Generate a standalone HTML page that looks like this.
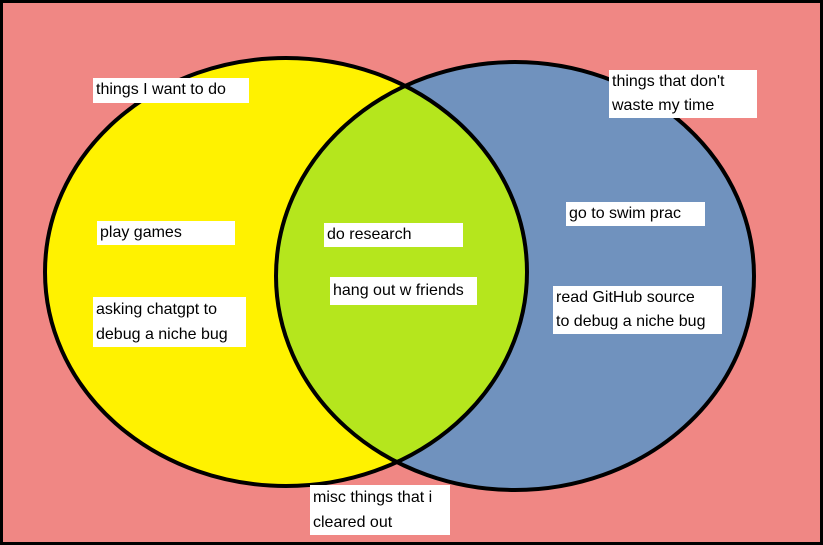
<!DOCTYPE html>
<html><head><style>
body{margin:0;width:823px;height:545px;overflow:hidden;background:#f08784}
.b{position:absolute;background:#fff;font-family:"Liberation Sans",sans-serif;font-size:16px;line-height:24px;color:#000;padding-left:3px;box-sizing:border-box}
</style></head><body>
<svg width="823" height="545" style="position:absolute;left:0;top:0">
<defs><clipPath id="c"><ellipse cx="286" cy="272" rx="241" ry="214"/></clipPath></defs>
<rect x="1.5" y="1.5" width="820" height="542" fill="#f08784" stroke="#000" stroke-width="3"/>
<ellipse cx="286" cy="272" rx="241" ry="214" fill="#fff200"/>
<ellipse cx="515" cy="276" rx="239" ry="214" fill="#7092be"/>
<ellipse cx="515" cy="276" rx="239" ry="214" fill="#b5e61d" clip-path="url(#c)"/>
<ellipse cx="286" cy="272" rx="241" ry="214" fill="none" stroke="#000" stroke-width="4"/>
<ellipse cx="515" cy="276" rx="239" ry="214" fill="none" stroke="#000" stroke-width="4"/>
</svg>
<div class="b" style="left:93px;top:78px;width:156px;height:25px">things I want to do</div>
<div class="b" style="left:609px;top:70px;width:148px;height:48px">things that don't<br>waste my time</div>
<div class="b" style="left:97px;top:221px;width:138px;height:24px">play games</div>
<div class="b" style="left:324px;top:223px;width:139px;height:24px">do research</div>
<div class="b" style="left:566px;top:202px;width:139px;height:24px">go to swim prac</div>
<div class="b" style="left:330px;top:277px;width:147px;height:28px;line-height:28px">hang out w friends</div>
<div class="b" style="left:93px;top:297px;width:153px;height:50px;line-height:25px">asking chatgpt to<br>debug a niche bug</div>
<div class="b" style="left:553px;top:286px;width:169px;height:48px">read GitHub source<br>to debug a niche bug</div>
<div class="b" style="left:310px;top:485px;width:140px;height:50px;line-height:25px">misc things that i<br>cleared out</div>
</body></html>
